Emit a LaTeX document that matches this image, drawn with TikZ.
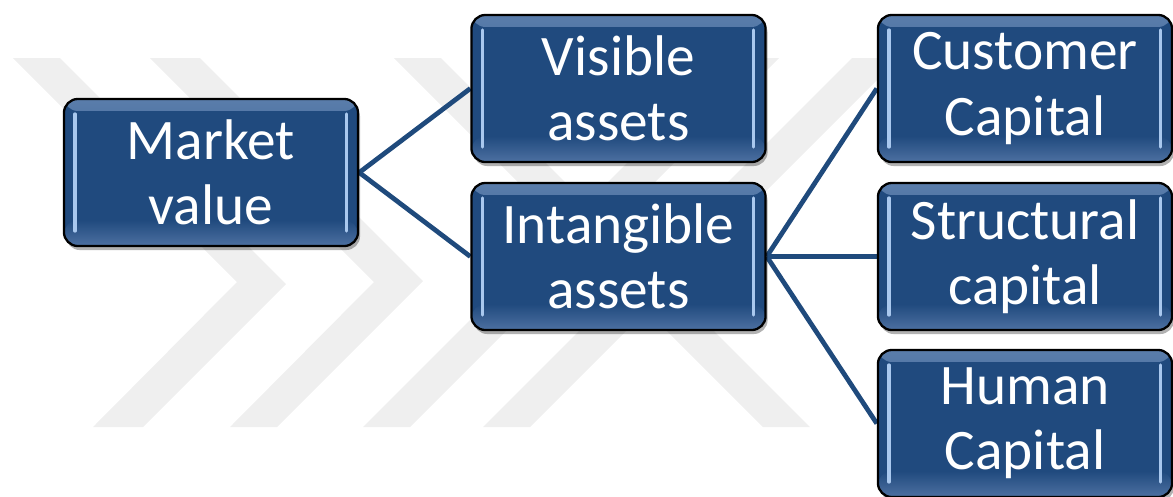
\documentclass[tikz,border=0pt]{standalone}
\usepackage{fontspec}
\setmainfont{Carlito}
\usetikzlibrary{shadows,backgrounds}
\pgfdeclarelayer{wmlayer}
\pgfsetlayers{wmlayer,background,main}
\definecolor{boxblue}{HTML}{204A7E}
\definecolor{topblue}{HTML}{5A7DAB}
\definecolor{botblue}{HTML}{4D70A1}
\definecolor{bevelc}{HTML}{A9C8EE}
\definecolor{wmgray}{HTML}{EFEFEF}
\definecolor{linkblue}{HTML}{1F4A7C}
\tikzset{
  box/.style={rectangle, rounded corners=0.14cm, minimum width=2.94cm, minimum height=1.47cm,
    inner sep=0pt, fill=boxblue, draw=black, line width=0.65pt, text=white, align=center,
    font=\fontsize{16.3}{18.5}\selectfont,
    drop shadow={shadow xshift=0.02cm, shadow yshift=-0.04cm, opacity=0.3, fill=black},
    path picture={
      \fill[top color=topblue, bottom color=boxblue]
        (path picture bounding box.north west) rectangle ([yshift=-0.12cm]path picture bounding box.north east);
      \fill[top color=boxblue, bottom color=botblue]
        ([yshift=0.26cm]path picture bounding box.south west) rectangle (path picture bounding box.south east);
      \draw[bevelc, line width=0.9pt, line cap=round]
        ([xshift=0.11cm,yshift=-0.15cm]path picture bounding box.north west) --
        ([xshift=0.11cm,yshift=0.15cm]path picture bounding box.south west);
      \draw[bevelc, line width=0.9pt, line cap=round]
        ([xshift=-0.12cm,yshift=-0.15cm]path picture bounding box.north east) --
        ([xshift=-0.12cm,yshift=0.15cm]path picture bounding box.south east);
    }},
  link/.style={draw=linkblue, line width=1.35pt},
  wmband/.style={fill=wmgray, draw=none}
}
\begin{document}
\begin{tikzpicture}[x=0.01cm, y=-0.01cm]
\useasboundingbox (0,0) rectangle (1173,496);
\begin{pgfonlayer}{wmlayer}
  \fill[wmband] (13,58) -- (60,58) -- (286,284) -- (143,427) -- (93,427) -- (237,282) -- cycle;
  \fill[wmband] (150,58) -- (200,58) -- (423,281) -- (277,427) -- (230,427) -- (374,282) -- cycle;
  \fill[wmband] (363,427) -- (410,427) -- (779,58) -- (732,58) -- cycle;
  \fill[wmband] (483,427) -- (530,427) -- (899,58) -- (852,58) -- cycle;
  \fill[wmband] (763,427) -- (810,427) -- (441,58) -- (394,58) -- cycle;
\end{pgfonlayer}

\node[box] (mv) at (211,172.5) {Market\\value};
\node[box] (va) at (618.5,88.5) {Visible\\assets};
\node[box] (ia) at (618.5,256.5) {Intangible\\assets};
\node[box] (cc) at (1025,88.5) {Customer\\Capital};
\node[box] (sc) at (1025,256.5) {Structural\\capital};
\node[box] (hc) at (1025,423.5) {Human\\Capital};

\begin{scope}[on background layer]
  \draw[link] (mv.east) -- (va.west);
  \draw[link] (mv.east) -- (ia.west);
  \draw[link] (ia.east) -- (cc.west);
  \draw[link] (ia.east) -- (sc.west);
  \draw[link] (ia.east) -- (hc.west);
\end{scope}
\end{tikzpicture}
\end{document}
